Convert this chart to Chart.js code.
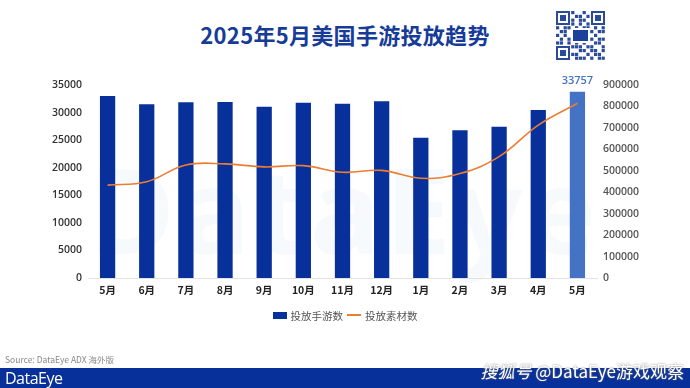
<!DOCTYPE html>
<html>
<head>
<meta charset="utf-8">
<script src="https://cdn.jsdelivr.net/npm/chart.js@4"></script>
<style>
  html, body { margin: 0; padding: 0; }
  body { width: 690px; height: 388px; position: relative; overflow: hidden; background: #fff;
         font-family: "Noto Sans CJK SC", "Open Sans", sans-serif; }
  #title { position: absolute; top: 18px; left: 0; width: 690px; text-align: center;
           font-size: 22px; font-weight: 700; color: #173c98; letter-spacing: 0.3px; }
  #wm { position: absolute; left: 88px; top: 128px; font-size: 118px; font-weight: 700;
        color: #f7fafd; font-family: "Open Sans", sans-serif; letter-spacing: 4px; }
  #chartBox { position: absolute; left: 0; top: 0; width: 690px; height: 388px; }
  #legend { position: absolute; top: 306px; left: 0; width: 690px; text-align: center;
            font-size: 10.5px; color: #555; }
  #legend span { display: inline-block; vertical-align: middle; }
  .lbox { width: 14px; height: 7px; background: #08309a; margin-right: 4px; }
  .lline { width: 14px; height: 2px; background: #ed7d31; margin: 0 4px 0 4px; }
  #source { position: absolute; left: 5px; top: 353px; font-size: 8.5px; color: #888; }
  #band { position: absolute; left: 0; top: 368px; width: 690px; height: 20px; background: #08309a; }
  #logo { position: absolute; left: 5px; top: 367px; font-size: 16px; color: #fff;
          font-family: "Open Sans", sans-serif; letter-spacing: -0.5px; }
  #sohu { position: absolute; right: 6px; top: 358px; font-size: 17px; color: #fff;
          text-shadow: 0 0 2px #777; }
  #qr { position: absolute; left: 554px; top: 9px; }
</style>
</head>
<body>
<div id="wm">DataEye</div>
<div id="title">2025年5月美国手游投放趋势</div>
<canvas id="qr" width="53" height="53"></canvas>
<div id="chartBox"><canvas id="chart" width="690" height="388"></canvas></div>
<div id="legend"><span class="lbox"></span><span>投放手游数</span><span class="lline"></span><span>投放素材数</span></div>
<div id="source">Source: DataEye ADX 海外版</div>
<div id="band"></div>
<div id="logo">DataEye</div>
<div id="sohu"><i>搜狐号</i> @DataEye游戏观察</div>

<script>
// months (last May is the current month)
const months = ["5月", "6月", "7月", "8月", "9月", "10月", "11月", "12月", "1月", "2月", "3月", "4月", "5月"];
// number of mobile games advertised (left axis)
const gameCounts = [33000, 31500, 31850, 31900, 31050, 31800, 31600, 32050, 25450, 26800, 27450, 30450, 33757];
// number of creatives (right axis)
const creativeCounts = [433000, 449000, 527000, 532000, 518000, 524000, 493000, 502000, 465000, 487000, 566000, 713000, 815000];

const leftTicks = { max: 35000, step: 5000 };
const rightTicks = { max: 900000, step: 100000 };

const barColors = gameCounts.map((v, i) => i === gameCounts.length - 1 ? "#4472c4" : "#08309a");

// label on top of the last bar
const lastLabel = {
  id: "lastLabel",
  afterDraw(chart) {
    const meta = chart.getDatasetMeta(1);
    const i = gameCounts.length - 1;
    const bar = meta.data[i];
    const ctx = chart.ctx;
    ctx.save();
    ctx.font = "600 11px 'Open Sans', sans-serif";
    ctx.fillStyle = "#4472c4";
    ctx.textAlign = "center";
    ctx.textBaseline = "middle";
    ctx.fillText(String(gameCounts[i]), bar.x, bar.y - 11);
    ctx.restore();
  }
};

const tickFont = { family: "'Open Sans', 'Noto Sans CJK SC', sans-serif", size: 10.5, weight: "600" };
const plain = v => String(v);

new Chart(document.getElementById("chart").getContext("2d"), {
  data: {
    labels: months,
    datasets: [
      {
        type: "line",
        label: "投放素材数",
        data: creativeCounts,
        yAxisID: "y1",
        borderColor: "#ed7d31",
        borderWidth: 1.6,
        pointRadius: 0,
        tension: 0.4,
        order: 0
      },
      {
        type: "bar",
        label: "投放手游数",
        data: gameCounts,
        yAxisID: "y",
        backgroundColor: barColors,
        barPercentage: 0.39,
        categoryPercentage: 1,
        order: 1
      }
    ]
  },
  options: {
    responsive: false,
    animation: false,
    layout: { padding: { top: 85, bottom: 90, left: 0, right: 0 } },
    plugins: { legend: { display: false }, tooltip: { enabled: false } },
    scales: {
      x: {
        grid: { display: false, drawTicks: false },
        border: { color: "#e2e2e2" },
        ticks: { color: "#222", font: { family: "'Noto Sans CJK SC', sans-serif", size: 10.5, weight: "700" }, padding: 6 },
        afterFit(s) { s.height = 20; }
      },
      y: {
        position: "left",
        min: 0,
        max: leftTicks.max,
        grid: { display: false, drawTicks: false },
        border: { display: false },
        ticks: { stepSize: leftTicks.step, color: "#333", font: tickFont, padding: 6, callback: plain },
        afterFit(s) { s.width = 88; }
      },
      y1: {
        position: "right",
        min: 0,
        max: rightTicks.max,
        grid: { display: false, drawTicks: false },
        border: { display: false },
        ticks: { stepSize: rightTicks.step, color: "#555", font: tickFont, padding: 6, callback: plain },
        afterFit(s) { s.width = 93; }
      }
    }
  },
  plugins: [lastLabel]
});

// small QR-like badge in the corner
(function () {
  const c = document.getElementById("qr").getContext("2d");
  c.fillStyle = "#fff";
  c.fillRect(0, 0, 53, 53);
  c.fillStyle = "#2a4a9a";
  const pat = [
    "1110100101011", "1010011010110", "1110101101011", "0001101011000",
    "1011010110101", "0110101001011", "1010110110100", "0101101011011",
    "1101010100110", "0010111011001", "1101001101101", "0110110010110", "1011011101011"
  ];
  for (let r = 0; r < 13; r++) for (let k = 0; k < 13; k++)
    if (pat[r][k] === "1") c.fillRect(2 + k * 3.8, 2 + r * 3.8, 3.2, 3.2);
  function finder(x, y) {
    c.fillStyle = "#fff"; c.fillRect(x - 1, y - 1, 16, 16);
    c.fillStyle = "#2a4a9a"; c.fillRect(x, y, 14, 14);
    c.fillStyle = "#fff"; c.fillRect(x + 2, y + 2, 10, 10);
    c.fillStyle = "#2a4a9a"; c.fillRect(x + 4, y + 4, 6, 6);
  }
  finder(2, 2); finder(37, 2); finder(2, 37);
  c.fillStyle = "#fff"; c.fillRect(17, 19, 19, 15);
  c.fillStyle = "#1c3f9c"; c.fillRect(19, 21, 15, 11);
})();
</script>
</body>
</html>
